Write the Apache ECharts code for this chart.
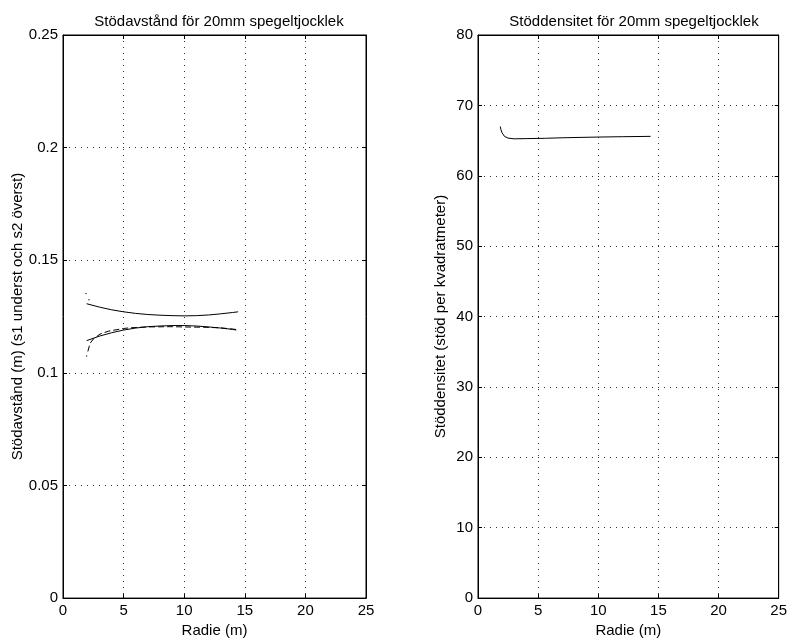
<!DOCTYPE html>
<html><head><meta charset="utf-8">
<script src="https://cdn.jsdelivr.net/npm/echarts@6/dist/echarts.min.js"></script>
<style>html,body{margin:0;padding:0;background:#fff}#c{width:790px;height:643px}</style>
</head><body><div id="c"></div>
<script>
// Left plot: support distance (m) vs radius (m)
const s2Upper = [[1.95,0.1307],[3,0.1292],[4,0.1280],[5,0.1271],[6,0.1264],[7,0.1259],[8,0.1256],[9,0.1254],[10,0.1253],[11,0.1254],[12,0.1257],[13,0.1262],[14,0.1268],[14.45,0.1271]];
const s1Lower = [[1.95,0.1143],[3,0.1163],[4,0.1178],[5,0.1190],[6,0.1199],[7,0.1205],[8,0.1208],[9,0.1210],[10,0.1210],[11,0.1208],[12,0.1204],[13,0.1199],[14,0.1193],[14.3,0.1190]];
const s1Dashed = [[2.05,0.1095],[2.23,0.1131],[2.5,0.1150],[3.05,0.1172],[3.74,0.1185],[5,0.1197],[5.5,0.1200],[7,0.1204],[9,0.1205],[10.75,0.1203],[11.4,0.1203],[13,0.1200],[14.4,0.1192]];
const dots = [[1.9,0.1352],[2.14,0.1325],[1.95,0.1075]];
// Right plot: support density vs radius
const density = [[1.85,67.0],[1.9,66.6],[2.0,66.1],[2.2,65.6],[2.5,65.35],[3,65.25],[4,65.28],[5.5,65.32],[5.6,65.05],[5.7,65.33],[7,65.4],[10,65.5],[12,65.55],[14.35,65.6]];
const xTicks = [0,5,10,15,20,25];

const font = 'Liberation Sans, Arial, Helvetica, sans-serif';
const fs = 15;
const grids = [
  {left:63, width:303, top:35, bottom:42, show:true, borderColor:'#000', borderWidth:1},
  {left:478, width:303, top:35, bottom:42, show:true, borderColor:'#000', borderWidth:1}
];
const dotted = {show:true, lineStyle:{color:'#333', type:[1,5], width:1}};
function xAx(g, top){
  return {type:'value', gridIndex:g, min:xTicks[0], max:xTicks[xTicks.length-1], interval:xTicks[1]-xTicks[0], position: top?'top':'bottom',
    name: top? '' : 'Radie (m)', nameLocation:'middle', nameGap:24,
    nameTextStyle:{color:'#000', fontFamily:font, fontSize:fs},
    axisLine:{show:true, onZero:false, lineStyle:{color:'#000'}},
    axisTick:{show:true, inside:true, length:4, lineStyle:{color:'#000'}},
    axisLabel:{show:!top, color:'#000', fontFamily:font, fontSize:fs, margin:5},
    splitLine: top? {show:false} : dotted};
}
function yAx(g, right, max, interval, name, gap){
  return {type:'value', gridIndex:g, min:0, max:max, interval:interval, position: right?'right':'left',
    name: right? '' : name, nameLocation:'middle', nameGap:gap,
    nameTextStyle:{color:'#000', fontFamily:font, fontSize:fs},
    axisLine:{show:true, onZero:false, lineStyle:{color:'#000'}},
    axisTick:{show:true, inside:true, length:4, lineStyle:{color:'#000'}},
    axisLabel:{show:!right, color:'#000', fontFamily:font, fontSize:fs, margin:5},
    splitLine: right? {show:false} : dotted};
}
const line = (data, xi, yi, type) => ({type:'line', xAxisIndex:xi, yAxisIndex:yi, data:data, showSymbol:false, smooth:false,
  lineStyle:{color:'#000', width:1, type:type||'solid'}, animation:false});

const chart = echarts.init(document.getElementById('c'));
chart.setOption({
  animation:false,
  backgroundColor:'#fff',
  title:[
    {text:'Stödavstånd för 20mm spegeltjocklek', left:214, top:9, textAlign:'center',
     textStyle:{fontFamily:font, fontSize:fs, fontWeight:'normal', color:'#000'}},
    {text:'Stöddensitet för 20mm spegeltjocklek', left:629, top:9, textAlign:'center',
     textStyle:{fontFamily:font, fontSize:fs, fontWeight:'normal', color:'#000'}}
  ],
  grid: grids,
  xAxis:[xAx(0,false), xAx(0,true), xAx(1,false), xAx(1,true)],
  yAxis:[yAx(0,false,0.25,0.05,'Stödavstånd (m) (s1 underst och s2 överst)',38), yAx(0,true,0.25,0.05,''),
         yAx(1,false,80,10,'Stöddensitet (stöd per kvadratmeter)',30), yAx(1,true,80,10,'')],
  series:[
    line(s2Upper,0,0),
    line(s1Lower,0,0),
    line(s1Dashed,0,0,[6,3]),
    {type:'scatter', xAxisIndex:0, yAxisIndex:0, data:dots, symbolSize:1.5, itemStyle:{color:'#000'}, animation:false},
    line(density,2,2)
  ]
});
</script></body></html>
